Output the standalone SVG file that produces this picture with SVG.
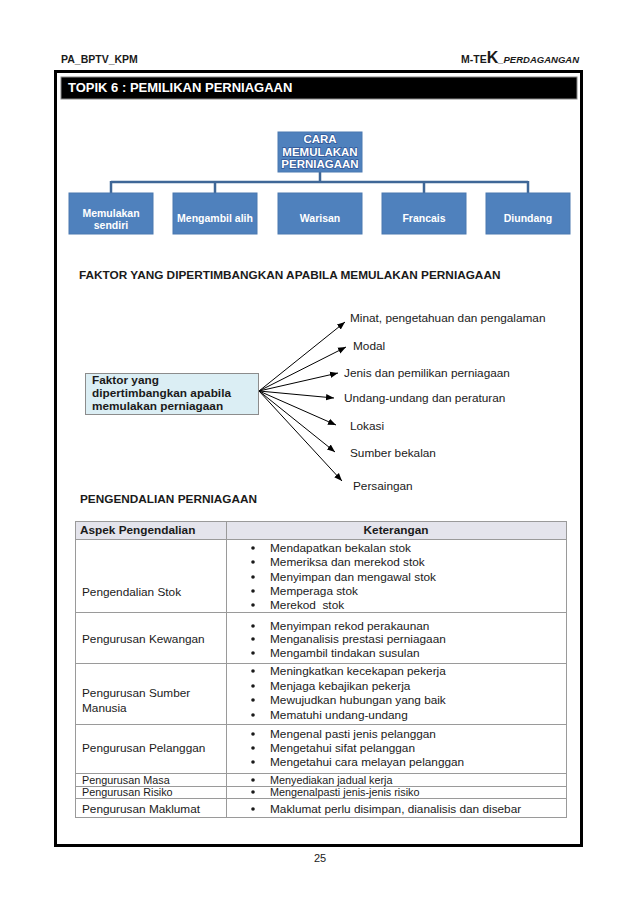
<svg xmlns="http://www.w3.org/2000/svg" width="638" height="903" viewBox="0 0 638 903">
<defs>
<marker id="ah" viewBox="0 0 10 10" refX="10" refY="5" markerWidth="8" markerHeight="8" markerUnits="userSpaceOnUse" orient="auto">
<path d="M0,1 L10,5 L0,9 z" fill="#000"/>
</marker>
<style>
text{font-family:"Liberation Sans",Arial,sans-serif;fill:#1a1a1a}
.hb{font-weight:bold;font-size:10.5px}
.sec{font-weight:bold;font-size:11.8px}
.bluebox{fill:#4F81BD;stroke:#4a78b0;stroke-width:1}
.bt{fill:#fff;font-weight:bold;font-size:10.5px;text-anchor:middle}
.tt{fill:#fff;font-weight:900;font-size:11.5px;text-anchor:middle;stroke:#2f5597;stroke-width:1.4;paint-order:stroke}
.conn{stroke:#3f6797;stroke-width:2.5;fill:none}
.arr{stroke:#000;stroke-width:1;fill:none;marker-end:url(#ah)}
.ft{font-size:11.8px}
.tl{stroke:#9a9a9a;stroke-width:1;fill:none}
.td{font-size:11.8px}
.ts{font-size:10.8px}
.tdb{font-size:11.8px;font-weight:bold}
.bul{fill:#1a1a1a}
</style>
</defs>
<rect width="638" height="903" fill="#fff"/>
<!-- header -->
<text class="hb" x="61" y="63">PA_BPTV_KPM</text>
<text x="579" y="63" text-anchor="end" style="font-weight:bold"><tspan font-size="10.5">M-TE</tspan><tspan font-size="16">K</tspan><tspan font-size="9.5" font-style="italic">_PERDAGANGAN</tspan></text>
<!-- frame -->
<rect x="55.5" y="71.5" width="526" height="774" fill="none" stroke="#000" stroke-width="3"/>
<!-- title bar -->
<rect x="61" y="77" width="516" height="22" fill="#000" stroke="#888" stroke-width="1"/>
<text x="68" y="92" style="fill:#fff;font-weight:bold;font-size:13px">TOPIK 6 : PEMILIKAN PERNIAGAAN</text>

<!-- org chart connectors -->
<g id="org-connectors">
<path class="conn" d="M320,172 V182 M111,182 H528 M111,181 V193 M215,181 V193 M424,181 V193 M528,181 V193"/>
</g>
<g id="node-cara">
<rect class="bluebox" x="278" y="132" width="84" height="40"/>
<text class="tt" x="320" y="143">CARA</text>
<text class="tt" x="320" y="156">MEMULAKAN</text>
<text class="tt" x="320" y="168">PERNIAGAAN</text>
</g>
<g id="node-memulakan">
<rect class="bluebox" x="69" y="193" width="84" height="41"/>
<text class="bt" x="111" y="217">Memulakan</text>
<text class="bt" x="111" y="229">sendiri</text>
</g>
<g id="node-mengambil">
<rect class="bluebox" x="173" y="193" width="84" height="41"/>
<text class="bt" x="215" y="222">Mengambil alih</text>
</g>
<g id="node-warisan">
<rect class="bluebox" x="278" y="193" width="84" height="41"/>
<text class="bt" x="320" y="222">Warisan</text>
</g>
<g id="node-francais">
<rect class="bluebox" x="382" y="193" width="84" height="41"/>
<text class="bt" x="424" y="222">Francais</text>
</g>
<g id="node-diundang">
<rect class="bluebox" x="486" y="193" width="84" height="41"/>
<text class="bt" x="528" y="222">Diundang</text>
</g>

<!-- faktor section -->
<text class="sec" x="79" y="279">FAKTOR YANG DIPERTIMBANGKAN APABILA MEMULAKAN PERNIAGAAN</text>
<g id="node-faktor">
<rect x="85.5" y="373.5" width="173" height="41" fill="#DBEEF4" stroke="#8c8c8c" stroke-width="1"/>
<text class="sec" x="92" y="384">Faktor yang</text>
<text class="sec" x="92" y="397">dipertimbangkan apabila</text>
<text class="sec" x="92" y="410">memulakan perniagaan</text>
</g>
<g id="faktor-connectors">
<line class="arr" x1="259" y1="391" x2="345" y2="322"/>
<line class="arr" x1="259" y1="391" x2="346" y2="347"/>
<line class="arr" x1="259" y1="391" x2="338" y2="373"/>
<line class="arr" x1="259" y1="391" x2="334" y2="398"/>
<line class="arr" x1="259" y1="391" x2="336" y2="425"/>
<line class="arr" x1="259" y1="391" x2="335" y2="452"/>
<line class="arr" x1="259" y1="391" x2="342" y2="481"/>
</g>
<g id="faktor-labels">
<text class="ft" x="350" y="322">Minat, pengetahuan dan pengalaman</text>
<text class="ft" x="353" y="350">Modal</text>
<text class="ft" x="344" y="377">Jenis dan pemilikan perniagaan</text>
<text class="ft" x="344" y="402">Undang-undang dan peraturan</text>
<text class="ft" x="350" y="430">Lokasi</text>
<text class="ft" x="350" y="457">Sumber bekalan</text>
<text class="ft" x="353" y="490">Persaingan</text>
</g>

<!-- table -->
<text class="sec" x="80" y="503">PENGENDALIAN PERNIAGAAN</text>
<g id="table">
<rect x="75" y="521" width="492" height="18" fill="#E4E4EC"/>
<path class="tl" d="M75,521.5 H567 M75,539.5 H567 M75,612.5 H567 M75,663.5 H567 M75,724.5 H567 M75,773.5 H567 M75,786.5 H567 M75,798.5 H567 M75,817.5 H567 M75.5,521 V818 M566.5,521 V818 M226.5,521 V818"/>
<text class="tdb" x="80" y="534">Aspek Pengendalian</text>
<text class="tdb" x="396" y="534" text-anchor="middle">Keterangan</text>

<text class="td" x="82" y="596">Pengendalian Stok</text>
<text class="td" x="82" y="643">Pengurusan Kewangan</text>
<text class="td" x="82" y="697">Pengurusan Sumber</text>
<text class="td" x="82" y="712">Manusia</text>
<text class="td" x="82" y="752">Pengurusan Pelanggan</text>
<text class="ts" x="82" y="783.5">Pengurusan Masa</text>
<text class="ts" x="82" y="796">Pengurusan Risiko</text>
<text class="td" x="82" y="813">Pengurusan Maklumat</text>

<g class="bul">
<circle cx="253" cy="548" r="1.8"/><circle cx="253" cy="562" r="1.8"/><circle cx="253" cy="577" r="1.8"/><circle cx="253" cy="591" r="1.8"/><circle cx="253" cy="605" r="1.8"/>
<circle cx="253" cy="626" r="1.8"/><circle cx="253" cy="639" r="1.8"/><circle cx="253" cy="653" r="1.8"/>
<circle cx="253" cy="671" r="1.8"/><circle cx="253" cy="686" r="1.8"/><circle cx="253" cy="700" r="1.8"/><circle cx="253" cy="715" r="1.8"/>
<circle cx="253" cy="734" r="1.8"/><circle cx="253" cy="748" r="1.8"/><circle cx="253" cy="762" r="1.8"/>
<circle cx="253" cy="780" r="1.8"/><circle cx="253" cy="792" r="1.8"/><circle cx="253" cy="809" r="1.8"/>
</g>
<text class="td" x="270" y="552">Mendapatkan bekalan stok</text>
<text class="td" x="270" y="566">Memeriksa dan merekod stok</text>
<text class="td" x="270" y="581">Menyimpan dan mengawal stok</text>
<text class="td" x="270" y="595">Memperaga stok</text>
<text class="td" x="270" y="609" xml:space="preserve">Merekod  stok</text>
<text class="td" x="270" y="630">Menyimpan rekod perakaunan</text>
<text class="td" x="270" y="643">Menganalisis prestasi perniagaan</text>
<text class="td" x="270" y="657">Mengambil tindakan susulan</text>
<text class="td" x="270" y="675">Meningkatkan kecekapan pekerja</text>
<text class="td" x="270" y="690">Menjaga kebajikan pekerja</text>
<text class="td" x="270" y="704">Mewujudkan hubungan yang baik</text>
<text class="td" x="270" y="719">Mematuhi undang-undang</text>
<text class="td" x="270" y="738">Mengenal pasti jenis pelanggan</text>
<text class="td" x="270" y="752">Mengetahui sifat pelanggan</text>
<text class="td" x="270" y="766">Mengetahui cara melayan pelanggan</text>
<text class="ts" x="270" y="783.5">Menyediakan jadual kerja</text>
<text class="ts" x="270" y="796">Mengenalpasti jenis-jenis risiko</text>
<text class="td" x="270" y="813">Maklumat perlu disimpan, dianalisis dan disebar</text>
</g>
<text x="320" y="862" text-anchor="middle" style="font-size:11px">25</text>
</svg>
